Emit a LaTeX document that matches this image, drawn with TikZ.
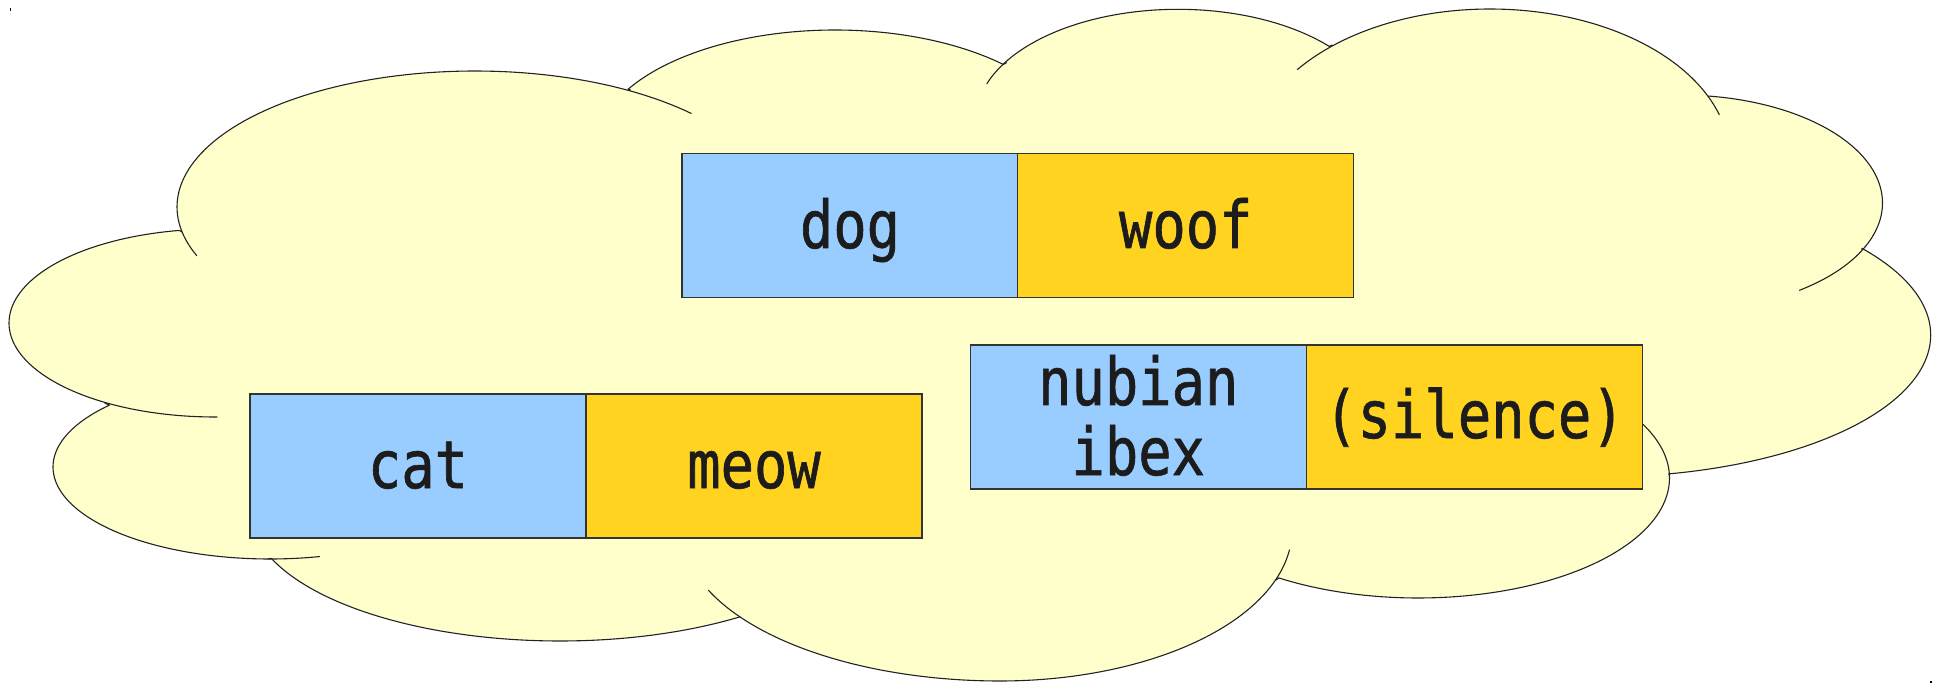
\documentclass[tikz,border=0pt]{standalone}
\usepackage{fontspec}
\newfontfamily\boxfont[FakeStretch=0.84, FakeBold=1]{DejaVu Sans Mono}
\definecolor{cloudyellow}{HTML}{FFFFCC}
\definecolor{cloudedge}{HTML}{222222}
\definecolor{keyblue}{HTML}{99CCFF}
\definecolor{valgold}{HTML}{FFD320}
\definecolor{boxedge}{HTML}{333333}
\definecolor{textdark}{HTML}{1C1C1C}
\tikzset{
  cloudfill/.style={fill=cloudyellow},
  cloudline/.style={draw=cloudedge, line width=0.55pt, line cap=round, line join=round},
  keybox/.style={draw=boxedge, line width=0.6pt, fill=keyblue, minimum width=168pt, minimum height=72pt, inner sep=0pt, outer sep=0pt},
  valbox/.style={keybox, fill=valgold},
  lbl/.style={font=\boxfont\fontsize{33pt}{35pt}\selectfont, text=textdark, anchor=base, inner sep=0pt},
  dotmark/.style={fill=black}
}
% elliptic lobe arc: cx, cy, rx, ry, start angle, end angle (screen y down)
\newcommand{\lobearc}[6]{plot[domain=#5:#6, samples=90, variable=\t] ({#1+#3*cos(\t)},{#2+#4*sin(\t)})}
\newcommand{\lobeline}[6]{-- plot[domain=#5:#6, samples=90, variable=\t] ({#1+#3*cos(\t)},{#2+#4*sin(\t)})}
\begin{document}
\begin{tikzpicture}[x=0.5pt,y=-0.5pt]
\useasboundingbox (0,0) rectangle (1945,684);
% corner marks
\fill[dotmark] (9.5,8.5) rectangle (11,11);
\fill[dotmark] (1930,681) rectangle (1932,683);
% junctions
\coordinate (Jk) at (182,232);
\coordinate (Jj) at (630.6,90);
\coordinate (Ji) at (1006.6,62.7);
\coordinate (Jh) at (1332,45);
\coordinate (Jg) at (1708.7,96.8);
\coordinate (Jf) at (1862,249.5);
\coordinate (Je) at (1669.5,476);
\coordinate (Jd) at (1276,580);
\coordinate (Jc) at (739.6,616.7);
\coordinate (Jb) at (268,559);
\coordinate (Ja) at (105,403.3);
% lobe paths
\def\pTL{\lobearc{475}{207}{298}{136}{159}{316.5}}
\def\pTML{(Jj) \lobeline{835}{150}{240}{120}{210.4}{314.5} -- (Ji)}
\def\pTMR{\lobearc{1178}{119.3}{202}{110}{198.9}{318.5} -- (Jh)}
\def\pTR{\lobearc{1490}{159}{240}{150}{216.6}{342.8}}
\def\pRU{(Jg) \lobeline{1680.5}{203}{202}{108}{278}{413.9}}
\def\pR{(Jf) \lobeline{1600}{335}{330.7}{142}{322.4}{438} -- (Je)}
\def\pLR{\lobearc{1418}{478}{251.5}{120}{332.7}{483.6} -- (Jd)}
\def\pBM{\lobearc{1000}{530}{292}{151}{7.6}{90} \lobeline{1000}{530}{318}{151}{90}{156.5}}
\def\pBL{(Jc) \lobeline{560}{511}{310}{130}{54.5}{158.6} -- (Jb)}
\def\pLL{\lobearc{270}{467}{217}{92}{76.8}{222.3} -- (Ja)}
\def\pL{\lobearc{215}{323}{206}{94}{89.4}{260} -- (Jk)}
% fill
\fill[cloudfill] (Jk) -- (Jj) -- (Ji) -- (Jh) -- (Jg) -- (Jf) -- (Je) -- (Jd) -- (Jc) -- (Jb) -- (Ja) -- cycle;
\fill[cloudfill] \pTL -- cycle;
\fill[cloudfill] \pTML -- cycle;
\fill[cloudfill] \pTMR -- cycle;
\fill[cloudfill] \pTR -- cycle;
\fill[cloudfill] \pRU -- cycle;
\fill[cloudfill] \pR -- cycle;
\fill[cloudfill] \pLR -- cycle;
\fill[cloudfill] \pBM -- cycle;
\fill[cloudfill] \pBL -- cycle;
\fill[cloudfill] \pLL -- cycle;
\fill[cloudfill] \pL -- cycle;
% outline
\draw[cloudline] \pTL;
\draw[cloudline] \pTML;
\draw[cloudline] \pTMR;
\draw[cloudline] \pTR;
\draw[cloudline] \pRU;
\draw[cloudline] \pR;
\draw[cloudline] \pLR;
\draw[cloudline] \pBM;
\draw[cloudline] \pBL;
\draw[cloudline] \pLL;
\draw[cloudline] \pL;
% boxes
\node[keybox] (dog) at (850,225.5) {};
\node[valbox] (woof) at (1185.75,225.5) {};
\node[keybox] (cat) at (418,466) {};
\node[valbox] (meow) at (754,466) {};
\node[keybox] (ibex) at (1138.25,417) {};
\node[valbox] (silence) at (1474.5,417) {};
% labels
\node[lbl] (dogtext) at (850,248) {dog};
\node[lbl] (wooftext) at (1185.75,248) {woof};
\node[lbl] (cattext) at (418,488) {cat};
\node[lbl] (meowtext) at (754,488) {meow};
\node[lbl] (nubiantext) at (1138.25,405) {nubian};
\node[lbl] (ibextext) at (1138.25,475) {ibex};
\node[lbl] (silencetext) at (1474.5,438) {(silence)};
\end{tikzpicture}
\end{document}
